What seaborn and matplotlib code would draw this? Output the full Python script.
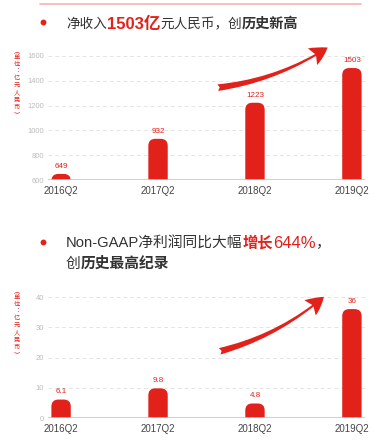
import matplotlib
matplotlib.use('Agg')
import matplotlib.pyplot as plt
import seaborn as sns
from matplotlib.patches import FancyBboxPatch, FancyArrowPatch, ArrowStyle
from matplotlib.lines import Line2D

# data
quarters = ['2016Q2', '2017Q2', '2018Q2', '2019Q2']
revenue = [649, 932, 1223, 1503]
non_gaap = [6.1, 9.8, 4.8, 36]
revenue_ticks = [600, 800, 1000, 1200, 1400, 1600]
profit_ticks = [0, 10, 20, 30, 40]
unit_label = '︵\n单\n位\n︓\n亿\n元\n人\n民\n币\n︶'

RED = '#e3211b'
PINK = '#f6b3b1'
DARK = '#333333'

sns.set_theme(style='white')
plt.rcParams['font.family'] = ['Liberation Sans', 'Noto Sans CJK SC', 'DejaVu Sans']

W, H = 389, 448
fig = plt.figure(figsize=(W / 100, H / 100), dpi=100)


def fx(px):
    return px / W


def fy(py):
    return 1 - py / H


def draw_segments(x, y, segments):
    renderer = fig.canvas.get_renderer()
    for s, color, weight, size in segments:
        t = fig.text(fx(x), fy(y), s, color=color, fontweight=weight,
                     fontsize=size, ha='left', va='center')
        x += t.get_window_extent(renderer).width


def round_bars(ax, radius_px=7):
    xr = ax.get_xlim()
    yr = ax.get_ylim()
    px = ax.bbox.width / (xr[1] - xr[0])
    py = ax.bbox.height / (yr[1] - yr[0])
    aspect = px / py
    r = radius_px / px
    for p in list(ax.patches):
        x0, y0 = p.get_x(), p.get_y()
        w, h = p.get_width(), p.get_height()
        p.remove()
        ax.add_patch(FancyBboxPatch((x0, y0 - r * aspect), w, h + r * aspect,
                                    boxstyle=f'round,pad=0,rounding_size={r}',
                                    mutation_aspect=aspect, fc=RED, ec='none',
                                    zorder=3, clip_on=True))


def bar_chart(rect, values, ylim, yticks, fmt):
    ax = fig.add_axes(rect)
    sns.barplot(x=quarters, y=values, color=RED, width=0.2, ax=ax, saturation=1)
    ax.set_xlim(-0.135, 3.135)
    ax.set_ylim(*ylim)
    ax.set_yticks(yticks)
    for s in ax.spines.values():
        s.set_visible(False)
    ax.yaxis.grid(True, color='#e4e4e4', linestyle=(0, (4, 3)), linewidth=0.7)
    ax.set_axisbelow(True)
    ax.axhline(ylim[0], color=PINK, lw=1.2, zorder=4)
    ax.tick_params(axis='y', labelsize=5.5, labelcolor='#bbbbbb', length=0, pad=3)
    ax.tick_params(axis='x', labelsize=7, labelcolor='#444444', length=0, pad=4)
    ax.set_xlabel('')
    ax.set_ylabel('')
    round_bars(ax)
    for i, v in enumerate(values):
        ax.annotate(fmt(v), (i, v), xytext=(0, 3), textcoords='offset points',
                    ha='center', va='bottom', fontsize=5.8, color=RED, zorder=5)
    return ax


def arrow(tail, tip, rad):
    a = FancyArrowPatch((fx(tail[0]), fy(tail[1])), (fx(tip[0]), fy(tip[1])),
                        transform=fig.transFigure,
                        connectionstyle=f'arc3,rad={rad}',
                        arrowstyle=ArrowStyle.Fancy(head_length=0.75, head_width=0.8, tail_width=0.28),
                        mutation_scale=17, color=RED, lw=0)
    fig.add_artist(a)


# top rule
fig.add_artist(Line2D([fx(40), fx(361)], [fy(4), fy(4)], color=PINK, lw=1.2))

# title 1
fig.add_artist(Line2D([fx(43)], [fy(22)], marker='o', markersize=3.2, color=RED, lw=0))
draw_segments(66, 24, [('净收入', DARK, 'normal', 9.8), ('1503亿', RED, 'bold', 12),
                       ('元人民币，创', DARK, 'normal', 9.8), ('历史新高', DARK, 'bold', 10.2)])

ax1 = bar_chart([fx(48), fy(180), fx(365) - fx(48), fy(56) - fy(180)],
                revenue, (600, 1600), revenue_ticks, lambda v: f'{v:d}')
fig.text(fx(17), fy(82), unit_label, fontsize=4.5, color=RED, ha='center', va='center',
         linespacing=0.85, family=['Noto Sans CJK SC'])
arrow((215, 88), (330, 46), 0.12)

# title 2
fig.add_artist(Line2D([fx(43)], [fy(242)], marker='o', markersize=3.2, color=RED, lw=0))
draw_segments(66, 243, [('Non-GAAP净利润同比大幅', DARK, 'normal', 10.6), ('增长', RED, 'bold', 11),
                        ('644%', RED, 'normal', 12), ('，', DARK, 'normal', 10.6)])
draw_segments(66, 264, [('创', DARK, 'normal', 10.6), ('历史最高纪录', DARK, 'bold', 10.6)])

ax2 = bar_chart([fx(48), fy(418), fx(365) - fx(48), fy(297) - fy(418)],
                non_gaap, (0, 40), profit_ticks, lambda v: f'{v:g}')
fig.text(fx(17), fy(322), unit_label, fontsize=4.5, color=RED, ha='center', va='center',
         linespacing=0.85, family=['Noto Sans CJK SC'])
arrow((217, 352), (326, 295), 0.12)

fig.savefig('out.png', dpi=100)
